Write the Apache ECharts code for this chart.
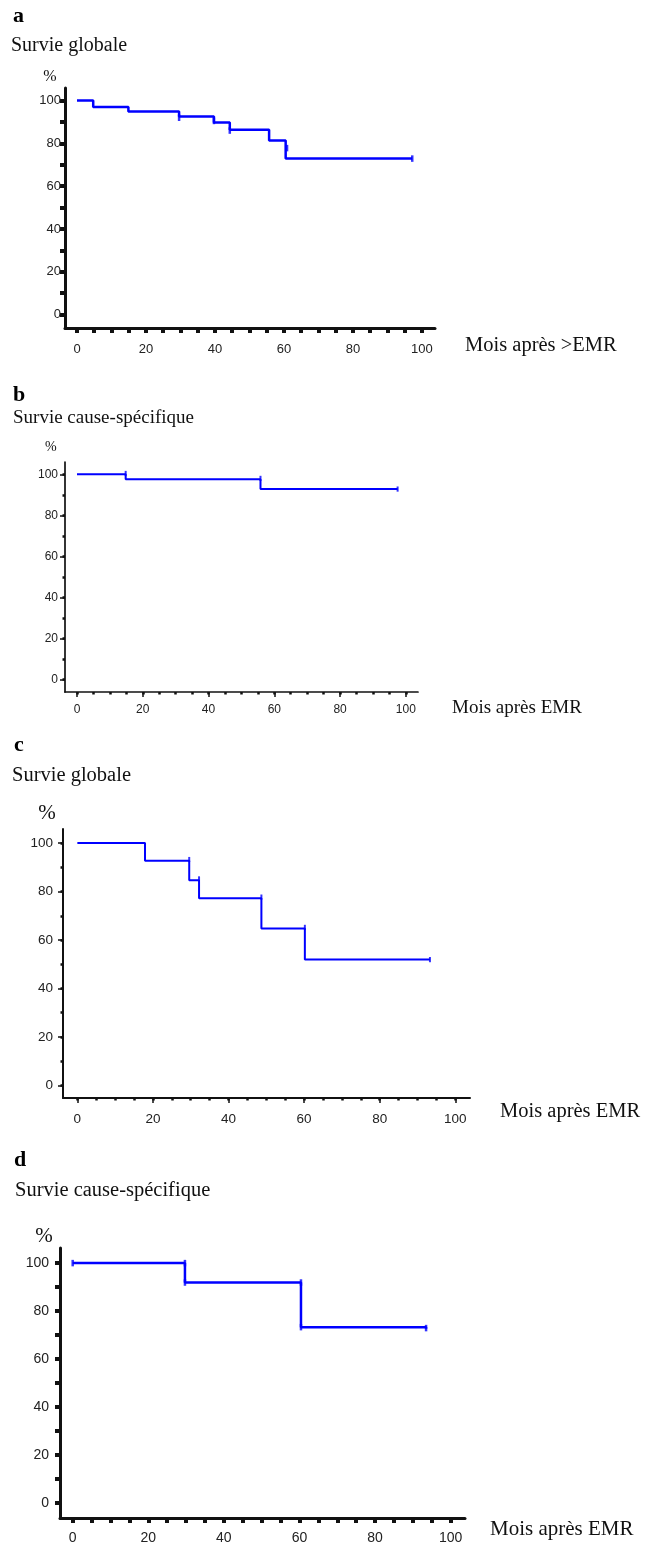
<!DOCTYPE html>
<html>
<head>
<meta charset="utf-8">
<script src="https://cdn.jsdelivr.net/npm/echarts@6/dist/echarts.min.js"></script>
<style>
html,body{margin:0;padding:0;background:#fff;}
#chart{width:645px;height:1546px;}
</style>
</head>
<body>
<div id="chart"></div>
<script>
// ---- data ----
const xTickValues = [0,5,10,15,20,25,30,35,40,45,50,55,60,65,70,75,80,85,90,95,100];
const xLabelValues = [0,20,40,60,80,100];
const yTickValues = [0,10,20,30,40,50,60,70,80,90,100];
const yLabelValues = [0,20,40,60,80,100];

// panel a : survie globale
const timesA = [0, 4.7, 14.9, 29.6, 39.7, 44.3, 55.7, 60.5, 97.2];
const survA  = [100, 97.0, 94.9, 92.6, 89.8, 86.4, 81.3, 72.9, 72.9];
const censorA = [[29.6, 92.0], [39.7, 90.5], [44.3, 86.0], [60.9, 77.8], [97.2, 72.9]];

// panel b : survie cause-spécifique
const timesB = [0, 14.8, 55.8, 97.5];
const survB  = [100, 97.6, 92.8, 92.8];
const censorB = [[14.8, 100.4], [55.8, 98.0], [97.5, 92.8]];

// panel c : survie globale
const timesC = [0, 17.9, 29.6, 32.2, 48.7, 60.2, 93.3];
const survC  = [100, 92.7, 84.7, 77.2, 64.7, 51.9, 51.9];
const censorC = [[29.6, 93.2], [32.2, 85.2], [48.7, 77.7], [60.2, 65.2], [93.3, 51.9]];

// panel d : survie cause-spécifique
const timesD = [0, 29.7, 60.4, 93.5];
const survD  = [100, 91.9, 73.3, 72.6];
const censorD = [[0, 100], [29.7, 100], [29.7, 91.9], [60.4, 91.9], [60.4, 73.3], [93.5, 72.9]];

const panelLetters = ['a', 'b', 'c', 'd'];
const panelTitles = ['Survie globale', 'Survie cause-spécifique', 'Survie globale', 'Survie cause-spécifique'];
const xAxisTitles = ['Mois après >EMR', 'Mois après EMR', 'Mois après EMR', 'Mois après EMR'];
const yUnit = '%';

// ---- layout / style ----
const layout = [
  {grid:{left:65, top:88, width:370, height:240}, xMin:-3.48, xMax:103.8, yMin:-6.3, yMax:105.9,
   axisW:3, majTick:[5,4], minTick:[5,4], yMajTick:[5,4], yMinTick:[5,4], labelSize:13, xMargin:15, yMargin:4, lineW:2.5,
   letter:[13,17,22], title:[11,48,20], pct:[50,78,16], xt:[465,347,20.5]},
  {grid:{left:65, top:462, width:353, height:230}, xMin:-3.65, xMax:103.7, yMin:-6.2, yMax:106,
   axisW:1.7, majTick:[5,1.5], minTick:[2.5,2.5], yMajTick:[5,1.5], yMinTick:[2.5,2.5], labelSize:12, xMargin:12, yMargin:7, lineW:2,
   letter:[13,396,22], title:[13,420,19], pct:[51,448,14], xt:[452,710,19]},
  {grid:{left:63, top:829, width:407, height:269}, xMin:-3.8, xMax:103.9, yMin:-5.2, yMax:105.8,
   axisW:2, majTick:[5,1.5], minTick:[2.5,2.5], yMajTick:[5,1.5], yMinTick:[2.5,2.5], labelSize:13.5, xMargin:14, yMargin:10, lineW:2,
   letter:[14,746,22], title:[12,777,20.5], pct:[47,815,21], xt:[500,1113,20.5]},
  {grid:{left:60, top:1248, width:405, height:270}, xMin:-3.36, xMax:103.8, yMin:-6.3, yMax:106.3,
   axisW:3, majTick:[5,4], minTick:[5,4], yMajTick:[5,4], yMinTick:[5,4], labelSize:14, xMargin:13, yMargin:11, lineW:2.5,
   letter:[14,1161,22], title:[15,1192,20.5], pct:[44,1238,21], xt:[490,1532,21]}
];

const allTimes = [timesA, timesB, timesC, timesD];
const allSurv = [survA, survB, survC, survD];
const allCensor = [censorA, censorB, censorC, censorD];

function stepPoints(t, s) {
  const pts = [[t[0], s[0]]];
  for (let i = 1; i < t.length; i++) {
    pts.push([t[i], s[i-1]]);
    pts.push([t[i], s[i]]);
  }
  return pts;
}

const ink = '#111';
const labelColor = '#222';
const blue = '#0000ff';
const grids = [], xAxes = [], yAxes = [], series = [], graphics = [];

layout.forEach((L, p) => {
  grids.push(L.grid);
  const xMajor = {
    type:'value', gridIndex:p, position:'bottom', min:L.xMin, max:L.xMax,
    axisLine:{show:true, onZero:false, lineStyle:{color:ink, width:L.axisW}},
    axisTick:{show:true, customValues:xLabelValues, length:L.majTick[0], lineStyle:{color:ink, width:L.majTick[1]}},
    axisLabel:{show:true, customValues:xLabelValues, margin:L.xMargin, color:labelColor, fontSize:L.labelSize, fontFamily:'Liberation Sans, Arial, sans-serif'},
    splitLine:{show:false}
  };
  const xMinor = {
    type:'value', gridIndex:p, position:'bottom', offset:0, min:L.xMin, max:L.xMax,
    axisLine:{show:false, onZero:false},
    axisTick:{show:true, customValues:xTickValues, length:L.minTick[0], lineStyle:{color:ink, width:L.minTick[1]}},
    axisLabel:{show:false}, splitLine:{show:false}
  };
  const yMajor = {
    type:'value', gridIndex:p, position:'left', min:L.yMin, max:L.yMax,
    axisLine:{show:true, onZero:false, lineStyle:{color:ink, width:L.axisW}},
    axisTick:{show:true, customValues:yLabelValues, length:L.yMajTick[0], lineStyle:{color:ink, width:L.yMajTick[1]}},
    axisLabel:{show:true, customValues:yLabelValues, margin:L.yMargin, color:labelColor, fontSize:L.labelSize, fontFamily:'Liberation Sans, Arial, sans-serif'},
    splitLine:{show:false}
  };
  const yMinor = {
    type:'value', gridIndex:p, position:'left', offset:0, min:L.yMin, max:L.yMax,
    axisLine:{show:false, onZero:false},
    axisTick:{show:true, customValues:yTickValues, length:L.yMinTick[0], lineStyle:{color:ink, width:L.yMinTick[1]}},
    axisLabel:{show:false}, splitLine:{show:false}
  };
  const xi = xAxes.length, yi = yAxes.length;
  xAxes.push(xMajor, xMinor);
  yAxes.push(yMajor, yMinor);
  series.push({
    type:'line', xAxisIndex:xi, yAxisIndex:yi, data:stepPoints(allTimes[p], allSurv[p]),
    showSymbol:false, symbol:'none', lineStyle:{color:blue, width:L.lineW}, animation:false, silent:true
  });
  series.push({
    type:'scatter', xAxisIndex:xi, yAxisIndex:yi, data:allCensor[p],
    symbol:'rect', symbolSize:[L.lineW, L.lineW*2.6], itemStyle:{color:blue}, animation:false, silent:true
  });
  graphics.push({type:'text', left:L.letter[0], top:L.letter[1]-L.letter[2]*0.55,
    style:{text:panelLetters[p], font:'bold '+L.letter[2]+'px "Liberation Serif", "Times New Roman", serif', fill:'#000'}});
  graphics.push({type:'text', left:L.title[0], top:L.title[1]-L.title[2]*0.6,
    style:{text:panelTitles[p], font:L.title[2]+'px "Liberation Serif", "Times New Roman", serif', fill:'#111'}});
  graphics.push({type:'text', left:L.pct[0]-L.pct[2]*0.42, top:L.pct[1]-L.pct[2]*0.55,
    style:{text:yUnit, font:L.pct[2]+'px "Liberation Serif", "Times New Roman", serif', fill:'#111'}});
  graphics.push({type:'text', left:L.xt[0], top:L.xt[1]-L.xt[2]*0.6,
    style:{text:xAxisTitles[p], font:L.xt[2]+'px "Liberation Serif", "Times New Roman", serif', fill:'#111'}});
});

const chart = echarts.init(document.getElementById('chart'), null, {renderer:'canvas'});
chart.setOption({
  animation:false,
  backgroundColor:'#fff',
  grid:grids, xAxis:xAxes, yAxis:yAxes, series:series, graphic:graphics
});
</script>
</body>
</html>
